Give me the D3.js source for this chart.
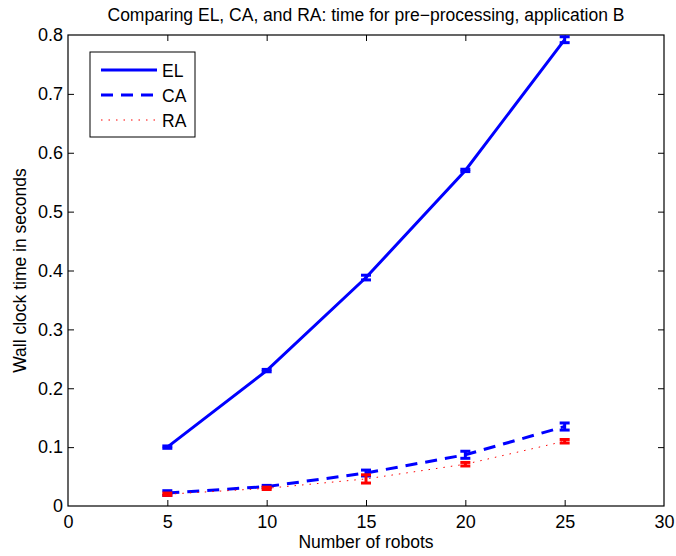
<!DOCTYPE html>
<html><head><meta charset="utf-8">
<script src="https://cdn.jsdelivr.net/npm/d3@7"></script>
<style>body{margin:0;background:#fff}text{font-family:"Liberation Sans",Arial,sans-serif}</style>
</head><body><svg id="c" width="676" height="556"></svg>
<script>
const robots = [5, 10, 15, 20, 25];
const elMean = [0.100, 0.230, 0.388, 0.570, 0.792];
const elErr  = [0.002, 0.002, 0.004, 0.002, 0.005];
const caMean = [0.022, 0.033, 0.056, 0.087, 0.135];
const caErr  = [0.004, 0.002, 0.005, 0.006, 0.006];
const raMean = [0.020, 0.030, 0.046, 0.071, 0.110];
const raErr  = [0.002, 0.002, 0.007, 0.003, 0.003];
const xTicks = [0, 5, 10, 15, 20, 25, 30];
const yTicks = [0, 0.1, 0.2, 0.3, 0.4, 0.5, 0.6, 0.7, 0.8];
const seriesNames = ["EL", "CA", "RA"];

const svg = d3.select("#c");
const L = 68, R = 664, T = 35, B = 506;
const x = d3.scaleLinear().domain([0, 30]).range([L, R]);
const y = d3.scaleLinear().domain([0, 0.8]).range([B, T]);

svg.append("text").attr("x", (L + R) / 2).attr("y", 21).attr("text-anchor", "middle")
  .attr("font-size", 17.5).text("Comparing EL, CA, and RA: time for pre\u2212processing, application B");

const fmtY = d => d === 0 ? "0" : d3.format(".1f")(d);
const ax = svg.append("g");
ax.append("g").attr("transform", `translate(0,${B})`).call(d3.axisBottom(x).tickValues(xTicks).tickSize(-6).tickPadding(9));
ax.append("g").attr("transform", `translate(0,${T})`).call(d3.axisTop(x).tickValues(xTicks).tickSize(-6).tickFormat(""));
ax.append("g").attr("transform", `translate(${L},0)`).call(d3.axisLeft(y).tickValues(yTicks).tickSize(-6).tickPadding(5).tickFormat(fmtY));
ax.append("g").attr("transform", `translate(${R},0)`).call(d3.axisRight(y).tickValues(yTicks).tickSize(-6).tickFormat(""));
ax.selectAll(".domain").remove();
ax.selectAll("text").attr("font-size", 18).attr("fill", "#000").attr("font-family", "Liberation Sans, Arial, sans-serif");
ax.selectAll(".tick line").attr("stroke", "#000");
ax.selectAll(".tick").filter(d => d === 0 || d === 30 || d === 0.8).select("line").remove();
svg.append("rect").attr("x", L).attr("y", T).attr("width", R - L).attr("height", B - T)
  .attr("fill", "none").attr("stroke", "#000").attr("stroke-width", 1.2);

svg.append("text").attr("x", (L + R) / 2).attr("y", 548).attr("text-anchor", "middle")
  .attr("font-size", 17.5).text("Number of robots");
svg.append("text").attr("transform", `translate(26,${(T + B) / 2}) rotate(-90)`).attr("text-anchor", "middle")
  .attr("font-size", 17.5).text("Wall clock time in seconds");

const series = [
  {name: "EL", mean: elMean, err: elErr, color: "#0000ff", w: 3, dash: null},
  {name: "CA", mean: caMean, err: caErr, color: "#0000ff", w: 3, dash: "12,8"},
  {name: "RA", mean: raMean, err: raErr, color: "#ff0000", w: 1, dash: "1.5,6"}
];
const line = d3.line().x((d, i) => x(robots[i])).y(d => y(d));
series.forEach(s => {
  svg.append("path").datum(s.mean).attr("d", line).attr("fill", "none")
    .attr("stroke", s.color).attr("stroke-width", s.w).attr("stroke-dasharray", s.dash);
  const g = svg.append("g");
  s.mean.forEach((m, i) => {
    const cx = x(robots[i]), y1 = y(m - s.err[i]), y2 = y(m + s.err[i]);
    const eg = g.append("g").attr("stroke", s.color).attr("stroke-width", 3);
    eg.append("line").attr("x1", cx).attr("x2", cx).attr("y1", y1).attr("y2", y2);
    eg.append("line").attr("x1", cx - 5).attr("x2", cx + 5).attr("y1", y1).attr("y2", y1);
    eg.append("line").attr("x1", cx - 5).attr("x2", cx + 5).attr("y1", y2).attr("y2", y2);
  });
});

const lg = svg.append("g");
lg.append("rect").attr("x", 90).attr("y", 52).attr("width", 105).attr("height", 85)
  .attr("fill", "#fff").attr("stroke", "#000").attr("stroke-width", 1);
const legY = d3.scalePoint().domain(seriesNames).range([70, 120]);
series.forEach(s => {
  lg.append("line").attr("x1", 101).attr("x2", 157).attr("y1", legY(s.name)).attr("y2", legY(s.name))
    .attr("stroke", s.color).attr("stroke-width", s.w).attr("stroke-dasharray", s.dash);
  lg.append("text").attr("x", 162).attr("y", legY(s.name) + 6.5).attr("font-size", 17.5).text(s.name);
});
</script></body></html>
